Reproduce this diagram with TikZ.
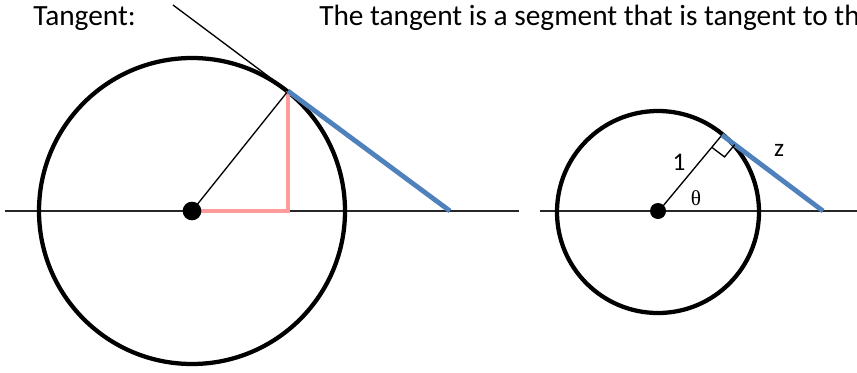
\documentclass[tikz,border=0pt]{standalone}
\usepackage{fontspec}
\setmainfont{Carlito}
\newfontfamily\thetafont{Liberation Serif}
\usetikzlibrary{calc}
\definecolor{tanblue}{HTML}{4F81BD}
\definecolor{legpink}{HTML}{FF9B9B}

\begin{document}
\begin{tikzpicture}[x=0.75pt,y=-0.75pt,
    axis/.style={line width=1.2pt,black!85},
    circ/.style={line width=3.2pt},
    thin/.style={line width=1pt},
    tanseg/.style={line width=3.6pt,tanblue},
    leg/.style={line width=3.4pt,legpink},
    dot/.style={circle,fill=black,inner sep=0pt,minimum size=#1},
    lbl/.style={font=\fontsize{19}{22}\selectfont,inner sep=0pt}]
        \useasboundingbox (0,0) rectangle (857,372);
        \clip (0,0) rectangle (857,372);
        % Heading
        \node[anchor=base west,inner sep=0pt,font=\fontsize{22}{26}\selectfont] (title) at (33,25) {Tangent:};
        \node[anchor=base west,inner sep=0pt,font=\fontsize{22}{26}\selectfont] (desc) at (319,25) {The tangent is a segment that is tangent to th};
        % Left figure: circle of radius 153
        \coordinate (O1) at (192,211);
        \coordinate (T1) at (288,91);
        \coordinate (P1) at (288,211);
        \coordinate (E1) at (450,211);
        \coordinate (S1) at (173,5);
        \draw[axis] (5,211) coordinate (A1) -- (519,211) coordinate (B1);
        \draw[circ] (O1) circle[radius=153];
        \draw[leg] (T1) -- (P1) -- (O1);
        \draw[thin] (O1) -- (T1);
        \draw[thin] (S1) -- (T1);
        \draw[tanseg] (T1) -- (E1);
        \node[dot=14pt] (c1) at (O1) {};
        % Right figure: unit circle, radius 101
        \coordinate (O2) at (658,212);
        \coordinate (T2) at (722,135);
        \coordinate (E2) at (823,211);
        \draw[axis] (540,211) coordinate (A2) -- (857,211) coordinate (B2);
        \draw[circ] (O2) circle[radius=101];
        \draw[thin] (O2) -- (T2);
        \draw[tanseg] (T2) -- (E2);
        % Right angle mark at the tangent point
        \coordinate (ra) at ($(T2)!12pt!(O2)$);
        \coordinate (rb) at ($(T2)!12pt!(E2)$);
        \draw[thin] (ra) -- ($(ra)+(rb)-(T2)$) -- (rb);
        \node[dot=12pt] (c2) at (658,211) {};
        % Labels
        \node[lbl] (one) at (679,162) {1};
        \node[lbl,font=\thetafont\fontsize{16}{19}\selectfont] (theta) at (696,198) {θ};
        \node[lbl] (zed) at (779,150) {z};
      \end{tikzpicture}
\end{document}
